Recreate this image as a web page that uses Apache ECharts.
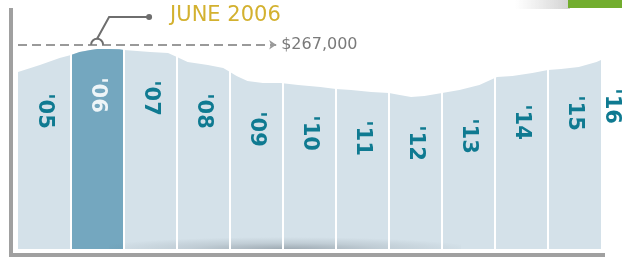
<!DOCTYPE html>
<html>
<head>
<meta charset="utf-8">
<script src="https://cdn.jsdelivr.net/npm/echarts@6/dist/echarts.min.js"></script>
<style>
  html, body { margin: 0; padding: 0; background: #fff; }
  #chart { width: 622px; height: 258px; }
</style>
</head>
<body>
<div id="chart"></div>
<script>
// price profile
const profileDates = [
  '2005-01-01', '2005-06-01', '2005-10-15', '2006-01-01', '2006-03-01', '2006-05-15',
  '2006-06-30', '2006-09-15', '2006-12-01', '2007-01-01', '2007-07-01', '2007-11-01',
  '2008-01-01', '2008-03-15', '2008-08-01', '2008-11-15', '2009-01-01', '2009-02-15',
  '2009-05-01', '2009-08-15', '2009-12-15', '2010-04-15', '2010-09-15', '2011-01-01',
  '2011-04-15', '2011-09-01', '2012-01-01', '2012-03-15', '2012-06-01', '2012-09-01',
  '2013-01-01', '2013-05-01', '2013-09-15', '2013-12-15', '2014-01-15', '2014-05-01',
  '2014-09-15', '2015-01-01', '2015-04-01', '2015-08-01', '2015-12-01', '2016-01-01'
]
const profileValues = [
  231300, 240500, 249600, 253600, 257500, 260100,
  261400, 261400, 261000, 260100, 257500, 256200,
  250900, 244400, 240500, 236600, 231300, 226100,
  219600, 217000, 217000, 214300, 211700, 209100,
  207800, 205200, 203900, 201300, 198700, 200000,
  203900, 207800, 214300, 222200, 224800, 226100,
  230000, 234000, 235300, 237900, 244400, 247000
]
// year columns and their labels
const labelYears = ["'05", "'06", "'07", "'08", "'09", "'10", "'11", "'12", "'13", "'14", "'15", "'16"]
const labelDates = [
  '2005-07-01', '2006-07-01', '2007-07-01', '2008-07-01', '2009-07-01', '2010-07-01',
  '2011-07-01', '2012-07-01', '2013-07-01', '2014-07-01', '2015-07-01', '2016-03-15'
]
const yearBreaks = ['2006-01-01', '2007-01-01', '2008-01-01', '2009-01-01', '2010-01-01',
  '2011-01-01', '2012-01-01', '2013-01-01', '2014-01-01', '2015-01-01']
const highlightYear = ['2006-01-01', '2007-01-01']
const peakDate = '2006-06-30'
const peakValue = 267000
const peakTitle = 'JUNE 2006'
const peakText = '$267,000'
const peakLineEnd = '2009-11-15'

const t = d => new Date(d).getTime()
const profile = profileDates.map((d, i) => [d, profileValues[i]])
const highlight = profile.filter(p => t(p[0]) >= t(highlightYear[0]) && t(p[0]) <= t(highlightYear[1]))
// height of the area at a label's column (nearest read point)
const topAt = d => {
  let best = profile[0]
  profile.forEach(p => { if (Math.abs(t(p[0]) - t(d)) < Math.abs(t(best[0]) - t(d))) best = p })
  return best[1]
}
const labels = labelDates.map((d, i) => [d, topAt(d)])

const chart = echarts.init(document.getElementById('chart'))
chart.setOption({
  animation: false,
  grid: { left: 18, right: 21, top: 8, bottom: 9 },
  xAxis: { type: 'time', min: '2005-01-01', max: '2016-01-01', show: false },
  yAxis: { type: 'value', min: 0, max: 315000, show: false },
  series: [
    {
      type: 'line',
      data: profile,
      showSymbol: false,
      lineStyle: { width: 0 },
      areaStyle: { color: '#d4e1e9', opacity: 1 },
      z: 2,
      markLine: {
        silent: true,
        symbol: 'none',
        z: 5,
        label: { show: false },
        lineStyle: { color: '#fff', width: 2, type: 'solid' },
        data: yearBreaks.map(d => ({ xAxis: d }))
      }
    },
    {
      type: 'line',
      data: highlight,
      showSymbol: false,
      lineStyle: { width: 0 },
      areaStyle: { color: '#74a7bf', opacity: 1 },
      z: 3,
      markLine: {
        silent: true,
        z: 8,
        symbol: ['none', 'arrow'],
        symbolSize: [7, 7],
        lineStyle: { color: '#9a9a9a', width: 2, type: [9, 5] },
        label: {
          show: true,
          position: 'end',
          distance: 5,
          formatter: peakText,
          color: '#7a7a7a',
          fontSize: 16,
          fontFamily: 'DejaVu Sans'
        },
        data: [[{ coord: ['2005-01-01', peakValue] }, { coord: [peakLineEnd, peakValue] }]]
      }
    },
    {
      type: 'custom',
      z: 10,
      clip: false,
      data: labels,
      renderItem: (params, api) => {
        const p = api.coord([api.value(0), api.value(1)])
        const i = params.dataIndex
        return {
          type: 'text',
          x: p[0],
          y: p[1] + 46,
          rotation: -Math.PI / 2,
          style: {
            text: labelYears[i],
            fill: i === 1 ? '#eef5f8' : '#0f7a91',
            font: 'bold 21px "DejaVu Sans"',
            align: 'center',
            verticalAlign: 'middle'
          }
        }
      }
    }
  ]
})

// callout, frame and decorations
const pk = chart.convertToPixel({ gridIndex: 0 }, [peakDate, peakValue])
const cx = pk[0]
const cy = pk[1]
chart.setOption({
  graphic: [
    {
      type: 'polyline', z: 100,
      shape: { points: [[11, 8], [11, 255], [605, 255]] },
      style: { stroke: '#a0a0a0', lineWidth: 4, fill: null }
    },
    {
      // soft shadow at the foot of the area
      type: 'rect', z: 4, silent: true,
      x: 285, y: 249, scaleX: 16,
      shape: { x: -11, y: -12, width: 22, height: 12 },
      style: {
        fill: new echarts.graphic.RadialGradient(0.5, 1, 1, [
          { offset: 0, color: 'rgba(80,90,100,0.4)' },
          { offset: 0.5, color: 'rgba(80,90,100,0.15)' },
          { offset: 1, color: 'rgba(80,90,100,0)' }
        ])
      }
    },
    {
      type: 'rect', z: 100,
      shape: { x: 515, y: 0, width: 55, height: 9 },
      style: {
        fill: new echarts.graphic.LinearGradient(0, 0, 1, 0, [
          { offset: 0, color: 'rgba(200,200,200,0)' },
          { offset: 1, color: 'rgba(190,190,190,0.7)' }
        ])
      }
    },
    {
      type: 'rect', z: 100,
      shape: { x: 568, y: 0, width: 54, height: 8 },
      style: { fill: '#72ad2e' }
    },
    {
      type: 'arc', z: 100,
      shape: { cx: cx, cy: cy, r: 6, startAngle: Math.PI, endAngle: Math.PI * 2, clockwise: true },
      style: { stroke: '#6e6e6e', lineWidth: 2, fill: null }
    },
    {
      type: 'polyline', z: 100,
      shape: { points: [[cx, cy - 6], [cx + 12, 17], [cx + 52, 17]] },
      style: { stroke: '#6e6e6e', lineWidth: 2, fill: null }
    },
    {
      type: 'circle', z: 100,
      shape: { cx: cx + 52, cy: 17, r: 3 },
      style: { fill: '#6e6e6e' }
    },
    {
      type: 'text', z: 100,
      x: cx + 73, y: 16,
      style: {
        text: peakTitle,
        fill: '#d3b12f',
        font: '21px "DejaVu Sans"',
        verticalAlign: 'middle'
      }
    }
  ]
})
</script>
</body>
</html>
